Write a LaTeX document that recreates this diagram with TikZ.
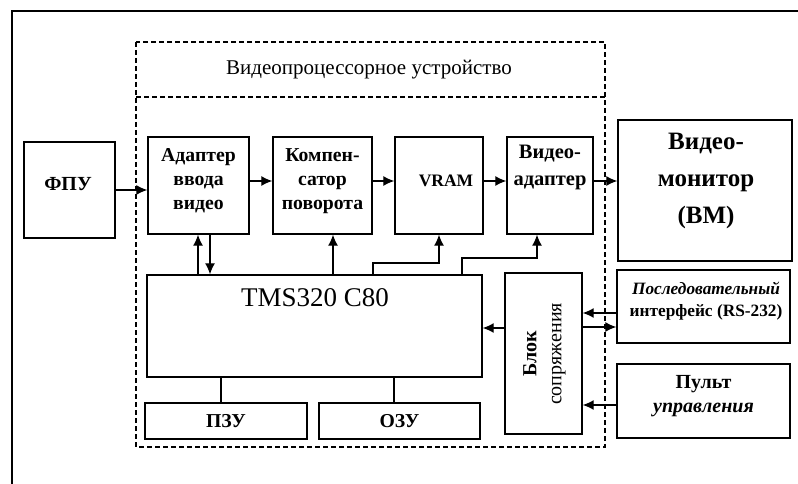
\documentclass[tikz,border=0pt]{standalone}
\usepackage{fontspec}
\setmainfont{Liberation Serif}
\usetikzlibrary{arrows.meta}
\begin{document}
\begin{tikzpicture}[x=1pt,y=-1pt,
  box/.style={draw,line width=1.4pt,inner sep=0pt,align=center},
  lbl/.style={font=\bfseries\fontsize{19.7}{24}\selectfont,align=center,inner sep=0pt},
  conn/.style={line width=1.3pt},
  arr/.style={line width=1.3pt,-{Latex[length=11pt,width=10pt]}}]
\useasboundingbox (0,0) rectangle (798,484);
% outer frame
\draw[line width=1.6pt] (12,484) -- (12,11) -- (798,11);
% dashed device frame
\draw[line width=1.3pt,dashed,dash pattern=on 5pt off 3pt] (136,42) rectangle (605,447);
\draw[line width=1.3pt,dashed,dash pattern=on 5pt off 3pt] (136,97) -- (605,97);
\node[inner sep=0pt,font=\fontsize{21}{24}\selectfont] (title) at (369,70) {Видеопроцессорное устройство};
% boxes
\node[box,minimum width=91pt,minimum height=96pt] (fpu) at (69.5,190) {};
\node[lbl,font=\bfseries\fontsize{20}{24}\selectfont] at (68,184) {ФПУ};
\node[box,minimum width=101pt,minimum height=97pt] (adapt) at (198.5,185.5) {};
\node[lbl] at (198.5,181) {Адаптер\\ввода\\видео};
\node[box,minimum width=99pt,minimum height=97pt] (komp) at (322.5,185.5) {};
\node[lbl] at (322.5,181) {Компен-\\сатор\\поворота};
\node[box,minimum width=88pt,minimum height=97pt] (vram) at (439,185.5) {};
\node[lbl,font=\bfseries\fontsize{17.5}{24}\selectfont] at (446,181) {VRAM};
\node[box,minimum width=86pt,minimum height=97pt] (vadapt) at (550,185.5) {};
\node[lbl,font=\bfseries\fontsize{20.5}{27}\selectfont] at (550,167) {Видео-\\адаптер};
\node[box,minimum width=174pt,minimum height=141pt] (vm) at (705,190.5) {};
\node[lbl,font=\bfseries\fontsize{25}{37}\selectfont] at (706,181) {Видео-\\монитор\\(ВМ)};
\node[box,minimum width=173pt,minimum height=73pt] (rs) at (703.5,306.5) {};
\node[lbl,font=\bfseries\fontsize{17.3}{22}\selectfont] at (706,301) {\textit{Последовательный}\\интерфейс (RS-232)};
\node[box,minimum width=173pt,minimum height=74pt] (pult) at (703.5,401) {};
\node[lbl,font=\bfseries\fontsize{20}{24}\selectfont] at (703.5,396.5) {Пульт\\\textit{управления}};
\node[box,minimum width=77pt,minimum height=161pt] (blok) at (543.5,353.5) {};
\node[lbl,rotate=90,font=\bfseries\fontsize{20}{25}\selectfont] at (544.5,354) {Блок\\\mdseries сопряжения};
\node[box,minimum width=335pt,minimum height=102pt] (tms) at (314.5,326) {};
\node[inner sep=0pt,font=\fontsize{27}{30}\selectfont] at (315,298) {TMS320 C80};
\node[box,minimum width=162pt,minimum height=36pt] (pzu) at (226,421) {};
\node[lbl] at (226,421) {ПЗУ};
\node[box,minimum width=161pt,minimum height=36pt] (ozu) at (399.5,421) {};
\node[lbl] at (399.5,421) {ОЗУ};
% connectors
\draw[arr] (fpu.east |- 0,190) -- (adapt.west |- 0,190);
\draw[arr] (adapt.east |- 0,181) -- (komp.west |- 0,181);
\draw[arr] (komp.east |- 0,181) -- (vram.west |- 0,181);
\draw[arr] (vram.east |- 0,181) -- (vadapt.west |- 0,181);
\draw[arr] (vadapt.east |- 0,181) -- (vm.west |- 0,181);
\draw[arr] (tms.north -| 198,0) -- (adapt.south -| 198,0);
\draw[arr] (adapt.south -| 210,0) -- (tms.north -| 210,0);
\draw[arr] (tms.north -| 333,0) -- (komp.south -| 333,0);
\draw[arr] (tms.north -| 373,0) -- (373,263) -- (439,263) -- (vram.south -| 439,0);
\draw[arr] (tms.north -| 462,0) -- (462,258) -- (537,258) -- (vadapt.south -| 537,0);
\draw[conn] (tms.south -| 221,0) -- (pzu.north -| 221,0);
\draw[conn] (tms.south -| 394,0) -- (ozu.north -| 394,0);
\draw[arr] (blok.west |- 0,328) -- (tms.east |- 0,328);
\draw[arr] (rs.west |- 0,313) -- (blok.east |- 0,313);
\draw[arr] (blok.east |- 0,327) -- (rs.west |- 0,327);
\draw[arr] (pult.west |- 0,405) -- (blok.east |- 0,405);
\end{tikzpicture}
\end{document}
